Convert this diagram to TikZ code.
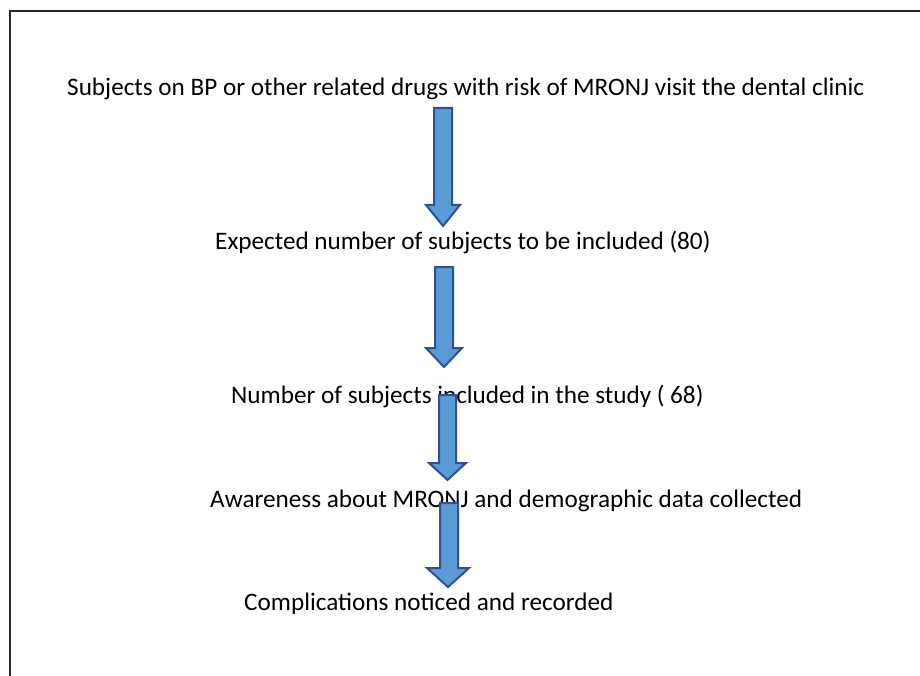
\documentclass[tikz,border=0pt]{standalone}
\usepackage{fontspec}
\setmainfont{Carlito}
\definecolor{arrowfill}{RGB}{91,155,213}
\definecolor{arrowline}{RGB}{47,82,143}
\tikzset{
  lbl/.style={anchor=base west,inner sep=0pt,font=\fontsize{25.2}{30}\selectfont,text=black},
  blockarrow/.style={fill=arrowfill,draw=arrowline,line width=2pt,line join=miter},
  frameline/.style={draw=black!85,line width=2.4pt}
}
\newcommand{\blockarr}[7]{%
  % #1 shaft left, #2 shaft right, #3 top, #4 head left, #5 head right, #6 head base, #7 tip
  \path[blockarrow] (#1,#3) -- (#2,#3) -- (#2,#6) -- (#5,#6) -- ({(#4+#5)/2},#7) -- (#4,#6) -- (#1,#6) -- cycle;}
\begin{document}
\begin{tikzpicture}[x=1pt,y=-1pt]
\useasboundingbox (0,0) rectangle (920,676);
\fill[white] (0,0) rectangle (920,676);
\draw[frameline] (10,676) -- (10,11) -- (920,11);
\node[lbl] (t1) at (67,96) {Subjects on BP or other related drugs with risk of MRONJ visit the dental clinic};
\blockarr{434}{452}{108}{426}{460}{205}{226}
\node[lbl] (t2) at (215,249) {Expected number of subjects to be included (80)};
\blockarr{435}{453}{267}{426}{462}{348}{367}
\node[lbl] (t3) at (231,403) {Number of subjects included in the study ( 68)};
\blockarr{439}{456}{395}{429}{466}{463}{480}
\node[lbl] (t4) at (210,507) {Awareness about MRONJ and demographic data collected};
\blockarr{440}{458}{503}{427}{469}{568}{587}
\node[lbl] (t5) at (244,610) {Complications noticed and recorded};
\end{tikzpicture}
\end{document}
